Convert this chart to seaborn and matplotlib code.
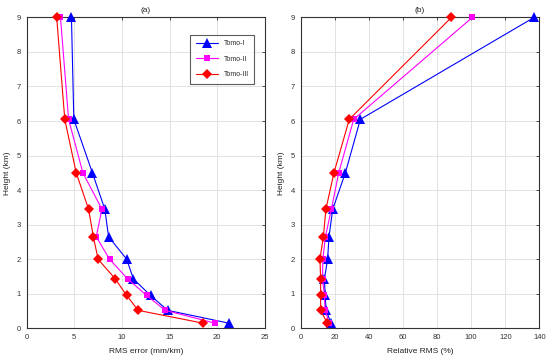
import pandas as pd
import matplotlib
matplotlib.use('Agg')
import matplotlib.pyplot as plt
import seaborn as sns

# heights of the layers (km)
height = [0.15, 0.52, 0.95, 1.43, 2.0, 2.65, 3.45, 4.5, 6.05, 9.0]

# RMS error (mm/km)
rms_tomo1 = [21.2, 14.8, 13.0, 11.2, 10.5, 8.6, 8.2, 6.9, 4.95, 4.7]
rms_tomo2 = [19.75, 14.55, 12.6, 10.6, 8.7, 7.3, 7.9, 5.9, 4.4, 3.55]
rms_tomo3 = [18.5, 11.7, 10.5, 9.3, 7.5, 7.0, 6.5, 5.2, 4.0, 3.15]

# relative RMS (%)
rel_tomo1 = [17.8, 14.9, 14.4, 13.9, 15.8, 16.6, 18.8, 26.2, 35.0, 136.9]
rel_tomo2 = [16.8, 14.3, 13.9, 12.8, 13.0, 14.5, 18.0, 22.3, 31.1, 100.7]
rel_tomo3 = [15.6, 11.7, 11.7, 11.7, 11.3, 13.3, 14.8, 19.5, 28.5, 88.4]

series = ['Tomo-I', 'Tomo-II', 'Tomo-III']
colors = {'Tomo-I': '#0000ff', 'Tomo-II': '#ff00ff', 'Tomo-III': '#ff0000'}
markers = {'Tomo-I': '^', 'Tomo-II': 's', 'Tomo-III': 'D'}
msize = {'^': 6.5, 's': 5, 'D': 5}

rows = []
for name, rms, rel in zip(series, [rms_tomo1, rms_tomo2, rms_tomo3], [rel_tomo1, rel_tomo2, rel_tomo3]):
    for h, a, b in zip(height, rms, rel):
        rows.append({'series': name, 'height': h, 'rms': a, 'rel': b})
df = pd.DataFrame(rows)

sns.set_style('white')
plt.rcParams['font.family'] = ['Liberation Sans', 'DejaVu Sans']

fig = plt.figure(figsize=(5.5, 3.59), dpi=100)
ax1 = fig.add_axes([0.0485, 0.0855, 0.433, 0.866])
ax2 = fig.add_axes([0.5467, 0.0855, 0.434, 0.866])

for ax, col, xmax, xticks, xlabel, title in [
        (ax1, 'rms', 25, range(0, 26, 5), 'RMS error (mm/km)', '(a)'),
        (ax2, 'rel', 140, range(0, 141, 20), 'Relative RMS (%)', '(b)')]:
    sns.lineplot(data=df, x=col, y='height', hue='series', style='series',
                 palette=colors, markers=markers, dashes=False, sort=False,
                 estimator=None, orient='y', ax=ax, linewidth=0.8,
                 markersize=6, markeredgewidth=0, legend=(ax is ax1))
    for ln in ax.get_lines():
        ln.set_clip_on(False)
        ln.set_zorder(3)
        m = ln.get_marker()
        if m in msize:
            ln.set_markersize(msize[m])
    ax.set_xlim(0, xmax)
    ax.set_ylim(0, 9)
    ax.set_xticks(list(xticks))
    ax.set_yticks(range(0, 10))
    ax.grid(True, color='#e2e2e2', linewidth=0.7)
    ax.tick_params(direction='in', length=2.5, width=0.6, labelsize=5.5,
                   top=True, right=True, pad=4, colors='#333333')
    for s in ax.spines.values():
        s.set_linewidth(0.8)
        s.set_color('#333333')
    ax.set_xlabel(xlabel, fontsize=6, color='#222222', labelpad=5)
    ax.set_ylabel('Height (km)', fontsize=6, color='#222222', labelpad=4)
    ax.set_title(title, fontsize=6, color='#222222', pad=4)

leg = ax1.legend(loc='upper right', bbox_to_anchor=(0.97, 0.955), fontsize=5,
                 frameon=True, fancybox=False, handlelength=3.2,
                 borderpad=0.8, labelspacing=1.2, handletextpad=0.8)
leg.get_frame().set_edgecolor('#333333')
leg.get_frame().set_linewidth(0.8)
for h in leg.legend_handles:
    if h.get_marker() in msize:
        h.set_markersize(msize[h.get_marker()])

fig.savefig('out.png', dpi=100)
